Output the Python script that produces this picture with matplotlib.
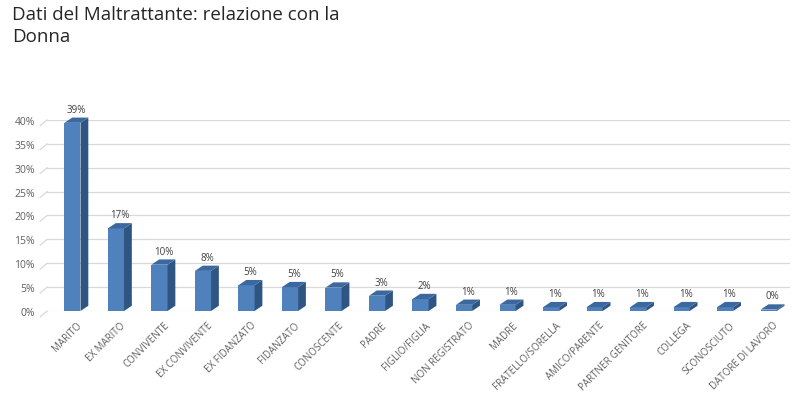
import matplotlib.pyplot as plt
from matplotlib.patches import Polygon

categories = ['MARITO', 'EX MARITO', 'CONVIVENTE', 'EX CONVIVENTE', 'EX FIDANZATO',
              'FIDANZATO', 'CONOSCENTE', 'PADRE', 'FIGLIO/FIGLIA', 'NON REGISTRATO',
              'MADRE', 'FRATELLO/SORELLA', 'AMICO/PARENTE', 'PARTNER GENITORE',
              'COLLEGA', 'SCONOSCIUTO', 'DATORE DI LAVORO']
values = [39.4, 17.3, 9.7, 8.4, 5.4, 5.0, 4.9, 3.2, 2.5, 1.3, 1.3, 0.8, 0.8, 0.8, 0.8, 0.8, 0.3]
value_labels = ['39%', '17%', '10%', '8%', '5%', '5%', '5%', '3%', '2%', '1%',
                '1%', '1%', '1%', '1%', '1%', '1%', '0%']
yticks = [0, 5, 10, 15, 20, 25, 30, 35, 40]

front = '#4f81bd'
side = '#2f5683'
top = '#3b689e'
gray = '#606060'

plt.rcParams['font.family'] = ['Open Sans', 'DejaVu Sans']

fig = plt.figure(figsize=(8, 4.1), dpi=100)
ax = fig.add_axes([0.059, 0.239, 0.929, 0.466])

w = 0.37
dx = 0.18
dy = 1.1
xs = list(range(len(categories)))

ax.set_xlim(-0.58, 16.5)
ax.set_ylim(0, 40)

for t in yticks:
    ax.axhline(t, color='#d9d9d9', linewidth=0.9, zorder=0)
    ax.plot([-0.74, -0.58], [t - 1.2, t], color='#d9d9d9', linewidth=0.9, clip_on=False, zorder=0)

ax.bar(xs, values, width=w, color=front, zorder=2)
for x, v, lab in zip(xs, values, value_labels):
    r = x + w / 2
    l = x - w / 2
    ax.add_patch(Polygon([(r, 0), (r + dx, dy), (r + dx, v + dy), (r, v)],
                         closed=True, facecolor=side, edgecolor='none', zorder=2, clip_on=False))
    ax.add_patch(Polygon([(l, v), (r, v), (r + dx, v + dy), (l + dx, v + dy)],
                         closed=True, facecolor=top, edgecolor='none', zorder=2, clip_on=False))
    ax.text(x + dx / 2, v + dy + 0.6, lab, ha='center', va='bottom', fontsize=7, color='#404040')

ax.set_yticks(yticks)
ax.set_yticklabels([f'{t}%' for t in yticks], fontsize=7.5, color=gray)
ax.set_xticks([x + 0.1 for x in xs])
ax.set_xticklabels(categories, rotation=45, ha='right', rotation_mode='anchor',
                   fontsize=7, color=gray)
ax.tick_params(axis='both', length=0)
ax.tick_params(axis='y', pad=9)
ax.tick_params(axis='x', pad=6)
for s in ax.spines.values():
    s.set_visible(False)

fig.text(0.015, 0.985, 'Dati del Maltrattante: relazione con la\nDonna', ha='left', va='top',
         fontsize=13.5, color='#262626', linespacing=1.3)

fig.savefig('out.png', dpi=100)
